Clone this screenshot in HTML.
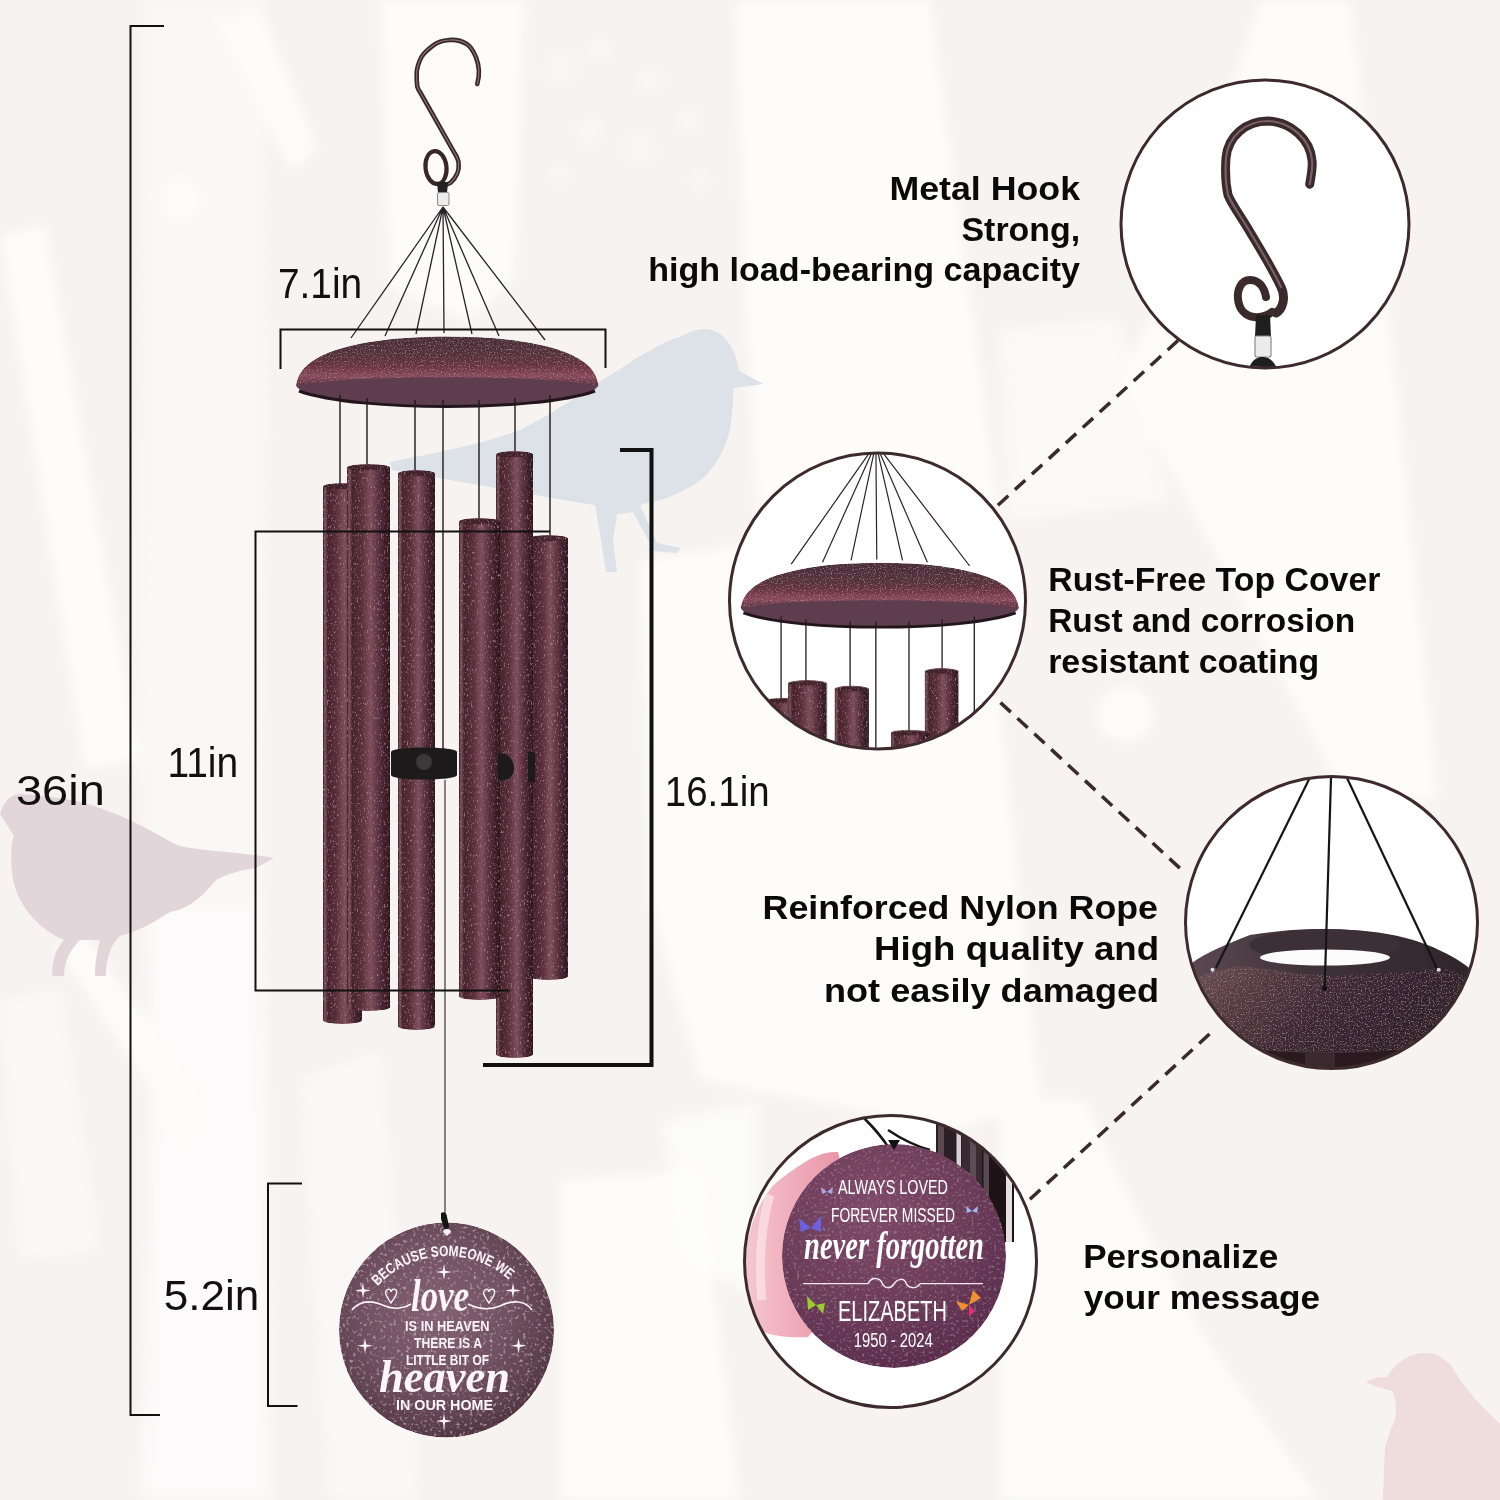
<!DOCTYPE html>
<html><head><meta charset="utf-8"><title>Wind Chime</title>
<style>
html,body{margin:0;padding:0;background:#f7f4f1;width:1500px;height:1500px;overflow:hidden}
svg{display:block}
.dim{font-family:"Liberation Sans",sans-serif;font-size:43px;fill:#111}
.lab{font-family:"Liberation Sans",sans-serif;font-weight:bold;font-size:34px;fill:#0a0a0a}
</style></head><body>
<svg width="1500" height="1500" viewBox="0 0 1500 1500">
<defs>
  <filter id="grain" x="0" y="0" width="100%" height="100%">
    <feTurbulence type="fractalNoise" baseFrequency="0.75" numOctaves="1" seed="5" result="noise"/>
    <feColorMatrix in="noise" type="matrix" values="0 0 0 0 0.7  0 0 0 0 0.55  0 0 0 0 0.6  1.6 0 0 0 -0.9" result="light"/>
    <feColorMatrix in="noise" type="matrix" values="0 0 0 0 0.1  0 0 0 0 0.05  0 0 0 0 0.08  0 -1.6 0 0 0.7" result="dark"/>
    <feMerge result="m"><feMergeNode in="SourceGraphic"/><feMergeNode in="dark"/><feMergeNode in="light"/></feMerge>
    <feComposite in="m" in2="SourceAlpha" operator="in"/>
  </filter>
  <filter id="glit2" x="0" y="0" width="100%" height="100%">
    <feTurbulence type="fractalNoise" baseFrequency="0.35" numOctaves="2" seed="11" result="noise"/>
    <feColorMatrix in="noise" type="matrix" values="0 0 0 0 0.8  0 0 0 0 0.6  0 0 0 0 0.74  0.8 0 0 0 -0.46" result="light"/>
    <feMerge result="m"><feMergeNode in="SourceGraphic"/><feMergeNode in="light"/></feMerge>
    <feComposite in="m" in2="SourceAlpha" operator="in"/>
  </filter>
  <filter id="soft" x="-10%" y="-10%" width="120%" height="120%"><feGaussianBlur stdDeviation="6"/></filter>
  <filter id="speck" x="0" y="0" width="100%" height="100%">
    <feTurbulence type="fractalNoise" baseFrequency="0.7 0.35" numOctaves="2" seed="7" result="noise"/>
    <feColorMatrix in="noise" type="matrix" values="0 0 0 0 0.72  0 0 0 0 0.46  0 0 0 0 0.54  1.8 0 0 0 -1.1" result="light"/>
    <feColorMatrix in="noise" type="matrix" values="0 0 0 0 0.16  0 0 0 0 0.07  0 0 0 0 0.11  0 -1.8 0 0 0.78" result="dark"/>
    <feMerge result="m"><feMergeNode in="SourceGraphic"/><feMergeNode in="dark"/><feMergeNode in="light"/></feMerge>
    <feComposite in="m" in2="SourceAlpha" operator="in"/>
  </filter>
  <filter id="glit" x="0" y="0" width="100%" height="100%">
    <feTurbulence type="fractalNoise" baseFrequency="0.3" numOctaves="2" seed="3" result="noise"/>
    <feColorMatrix in="noise" type="matrix" values="0 0 0 0 0.75  0 0 0 0 0.6  0 0 0 0 0.68  1.8 0 0 0 -1.05" result="light"/>
    <feColorMatrix in="noise" type="matrix" values="0 0 0 0 0.2  0 0 0 0 0.1  0 0 0 0 0.15  0 -1.8 0 0 0.75" result="dark"/>
    <feMerge result="m"><feMergeNode in="SourceGraphic"/><feMergeNode in="dark"/><feMergeNode in="light"/></feMerge>
    <feComposite in="m" in2="SourceAlpha" operator="in"/>
  </filter>
  <clipPath id="c1"><circle cx="1265" cy="224" r="143"/></clipPath>
  <clipPath id="c2"><circle cx="877.5" cy="601" r="147"/></clipPath>
  <clipPath id="c3"><circle cx="1331.5" cy="922.5" r="145"/></clipPath>
  <clipPath id="c4"><circle cx="890.5" cy="1261.5" r="145"/></clipPath>
  <linearGradient id="ring" x1="0" x2="1" y1="0" y2="0">
    <stop offset="0" stop-color="#5e4a52"/>
    <stop offset="0.4" stop-color="#40343a"/>
    <stop offset="1" stop-color="#2e2428"/>
  </linearGradient>
  <linearGradient id="ringfront" x1="0" x2="1" y1="0" y2="0.3">
    <stop offset="0" stop-color="#70525c"/>
    <stop offset="0.3" stop-color="#54383f"/>
    <stop offset="0.6" stop-color="#3a2630"/>
    <stop offset="1" stop-color="#2e2028"/>
  </linearGradient>
  <linearGradient id="hand" x1="0" x2="1" y1="0" y2="0">
    <stop offset="0" stop-color="#f4c8d0"/>
    <stop offset="0.3" stop-color="#f2b6c2"/>
    <stop offset="1" stop-color="#e896a8"/>
  </linearGradient>
  <radialGradient id="disc" cx="0.4" cy="0.3" r="0.8">
    <stop offset="0" stop-color="#7e4a6a"/>
    <stop offset="0.6" stop-color="#6a3a58"/>
    <stop offset="1" stop-color="#56284a"/>
  </radialGradient>
  <linearGradient id="tube" x1="0" x2="1" y1="0" y2="0">
    <stop offset="0" stop-color="#341a24"/>
    <stop offset="0.05" stop-color="#80545f"/>
    <stop offset="0.12" stop-color="#46222c"/>
    <stop offset="0.35" stop-color="#5a2e3c"/>
    <stop offset="0.55" stop-color="#7e4e5c"/>
    <stop offset="0.7" stop-color="#603442"/>
    <stop offset="0.86" stop-color="#42202c"/>
    <stop offset="1" stop-color="#2a161e"/>
  </linearGradient>
  <linearGradient id="cover" x1="0" x2="0" y1="0" y2="1">
    <stop offset="0" stop-color="#4a2e38"/>
    <stop offset="0.4" stop-color="#56303c"/>
    <stop offset="0.62" stop-color="#6e3446"/>
    <stop offset="0.8" stop-color="#8a4a5c"/>
    <stop offset="1" stop-color="#5e3040"/>
  </linearGradient>
  <radialGradient id="sail" cx="0.45" cy="0.42" r="0.62">
    <stop offset="0" stop-color="#846272"/>
    <stop offset="0.55" stop-color="#705060"/>
    <stop offset="0.85" stop-color="#5c3e4c"/>
    <stop offset="1" stop-color="#4a2e3c"/>
  </radialGradient>
  <g id="chime">
    <!-- strings to hook -->
    <g stroke="#2a2226" stroke-width="1.3" fill="none">
      <path d="M443,207 L351,338 M443,207 L385,336 M443,207 L416,334 M443,207 L444,333 M443,207 L472,334 M443,207 L499,336 M443,207 L545,340"/>
    </g>
    <!-- cover -->
    <path d="M296,385 C300,398 360,406 447,406 C534,406 594,398 598.5,385 C560,378 500,376 447,376 C394,376 334,378 296,385 Z" fill="#5e3e4e"/>
    <path d="M299,391 C330,402 390,406.5 447,406.5 C504,406.5 564,402 595,391" stroke="#22161c" stroke-width="3" fill="none"/>
    <path d="M296,386 C298,370 310,360 330,352 C360,341 400,336.5 447,336.5 C495,336.5 535,341 565,352 C585,360 597,370 598.5,386 C575,380 510,377.5 447,377.5 C384,377.5 319,380 296,386 Z" fill="url(#cover)" filter="url(#grain)"/>
    <!-- tube strings -->
    <g stroke="#1e1a1c" stroke-width="1.4" fill="none">
      <path d="M340,395 V485 M367,398 V466 M415,400 V472 M443,400 V760 M479,400 V520 M515,398 V453 M550,395 V537"/>
    </g>
    <!-- tubes -->
    <g filter="url(#speck)">
      <path d="M323,486.5 A19.5,3.5 0 0 1 362,486.5 V1020.5 A19.5,3.5 0 0 1 323,1020.5 Z" fill="url(#tube)"/>
      <ellipse cx="342.5" cy="486.5" rx="19.0" ry="2.7" fill="#3e2029" opacity="0.9"/>
      <path d="M529,538.5 A19.5,3.5 0 0 1 568,538.5 V976.5 A19.5,3.5 0 0 1 529,976.5 Z" fill="url(#tube)"/>
      <ellipse cx="548.5" cy="538.5" rx="19.0" ry="2.7" fill="#3e2029" opacity="0.9"/>
      <path d="M496,454.5 A18.5,3.5 0 0 1 533,454.5 V1054.5 A18.5,3.5 0 0 1 496,1054.5 Z" fill="url(#tube)"/>
      <ellipse cx="514.5" cy="454.5" rx="18.0" ry="2.7" fill="#3e2029" opacity="0.9"/>
      <path d="M459,521.5 A20.5,3.5 0 0 1 500,521.5 V996.5 A20.5,3.5 0 0 1 459,996.5 Z" fill="url(#tube)"/>
      <ellipse cx="479.5" cy="521.5" rx="20.0" ry="2.7" fill="#3e2029" opacity="0.9"/>
      <path d="M398,473.5 A18.5,3.5 0 0 1 435,473.5 V1026.5 A18.5,3.5 0 0 1 398,1026.5 Z" fill="url(#tube)"/>
      <ellipse cx="416.5" cy="473.5" rx="18.0" ry="2.7" fill="#3e2029" opacity="0.9"/>
      <path d="M347,467.5 A21.5,3.5 0 0 1 390,467.5 V1007.5 A21.5,3.5 0 0 1 347,1007.5 Z" fill="url(#tube)"/>
      <ellipse cx="368.5" cy="467.5" rx="21.0" ry="2.7" fill="#3e2029" opacity="0.9"/>
    </g>
    <!-- clapper -->
    <path d="M391,752 C391,746 457,746 457,752 V775 C457,781 391,781 391,775 Z" fill="#1c1a1b"/>
    <ellipse cx="424" cy="762" rx="8" ry="8" fill="#3a3839"/>
    <path d="M498,754 C508,752 514,760 514,768 C514,776 508,782 498,780 Z" fill="#1c1a1b"/>
    <rect x="528" y="752" width="7" height="30" fill="#1c1a1b"/>
  </g>
</defs>

<!-- background -->
<rect width="1500" height="1500" fill="#f6f3f0"/>
<g fill="#fdfcfb" filter="url(#soft)">
  <path d="M145,0 H265 L268,400 L262,800 L272,1500 H140 L150,1100 L138,700 Z" opacity="0.55"/>
  <path d="M145,900 H265 L272,1500 H140 L150,1100 Z" opacity="0.6"/>
  <path d="M215,22 L262,12 L318,150 L292,172 Z"/>
  <circle cx="182" cy="200" r="20"/>
  <path d="M380,0 H525 L515,280 L470,320 L390,290 Z"/>
  <path d="M735,0 H930 L975,330 L1000,520 L960,760 L760,560 L745,300 Z"/>
  <path d="M640,560 L780,540 L1000,700 L1040,1100 L960,1130 L700,1080 L650,900 Z"/>
  <circle cx="711" cy="979" r="40"/>
  <circle cx="1125" cy="714" r="28"/>
  <path d="M1260,0 H1350 L1396,380 L1438,800 H1346 L1240,600 L1122,380 L1180,250 Z"/>
  <path d="M1000,330 L1120,320 L1170,500 L1010,520 Z" opacity="0.7"/>
  <path d="M1000,1100 L1085,1100 L1130,1200 L1200,1330 L1320,1500 H1000 Z"/>
  <path d="M300,1080 L380,1050 L420,1500 H330 Z" opacity="0.6"/>
  <path d="M560,1180 L700,1170 L740,1500 H560 Z"/>
  <path d="M660,1120 L760,1100 L760,1300 L680,1260 Z" opacity="0.8"/>
  <path d="M0,235 L45,225 L140,760 L85,770 Z"/>
  <path d="M0,1000 L60,990 L100,1250 L20,1260 Z" opacity="0.6"/>
  <path d="M55,945 L85,935 L210,1110 L190,1150 Z"/>
</g>
<g fill="#fcfbfa" opacity="0.45" filter="url(#soft)">
  <circle cx="560" cy="70" r="18"/><circle cx="600" cy="50" r="14"/><circle cx="650" cy="80" r="16"/><circle cx="690" cy="120" r="14"/><circle cx="640" cy="150" r="18"/><circle cx="590" cy="130" r="16"/><circle cx="560" cy="175" r="12"/><circle cx="700" cy="180" r="12"/>
</g>

<!-- birds -->
<path d="M390,462 C440,452 480,445 520,430 C560,410 585,390 604.8,378.4 C620,370 630,362 640,356 C655,348 668,340 679.4,337.3 C690,331 698,329 705.6,329 C722,330 735,345 739,371 L763.4,384 L733.6,388 C733,405 732,418 729.8,430.6 C726,445 722,452 718.6,458.6 C708,475 700,482 690.6,486.6 C675,495 665,500 653.3,501.6 L640,505 L657,543 L681,548 L677,553 L654,551 L633,512 L617,514 L613,540 L617,572 L606,572 L601,540 L595,505 C560,500 480,485 392,470 Z" fill="#dde1e8"/>
<path d="M0,814 C4,800 12,794 20,794 C50,796 80,800 100,808 C140,822 165,840 180,846 C210,852 240,852 274,858 L256,868 C240,870 225,875 216,880 C200,900 185,910 170,912 C150,925 135,932 120,936 C110,945 106,960 106,976 L95,976 C95,960 98,948 100,940 L80,940 C70,950 64,962 64,976 L52,976 C52,960 56,948 64,940 C40,930 15,905 12,872 C10,855 12,840 14,836 Z" fill="#e2d6da"/>
<path d="M1366,1382 C1372,1378 1380,1377 1387,1377 C1398,1360 1410,1353 1427,1353 C1442,1353 1452,1365 1460,1380 C1475,1400 1490,1415 1500,1424 V1500 H1383 C1384,1470 1385,1455 1385,1447 C1390,1430 1396,1420 1396,1413 C1396,1400 1394,1393 1392,1391 C1384,1388 1374,1387 1366,1382 Z" fill="#efdcdc"/>

<!-- hook -->
<path d="M477.3,84 C479.5,76 479.5,66 476,57.3 C473,50 470,46 466.7,44 C461,40.5 455,39.5 449.3,40 C442,40.5 437,42.5 433.3,45.3 C427,50 423,54 421.3,57.3 C418,64 416.7,69 416.7,73.3 C416.5,79 416.8,83 417.3,86.7 C418,89 419,91 420,92 L454.7,153.3 C457,157 458.5,160.5 458.7,164 C459,167.5 458.5,170.5 457.3,173.3 C455.5,177.5 453,180.5 450.7,182.7 C448,184.5 445.5,185.3 442.7,185.3" stroke="#3a2628" stroke-width="4.6" fill="none" stroke-linecap="round" stroke-linejoin="round"/>
<ellipse cx="436" cy="167.5" rx="10.5" ry="16.5" transform="rotate(-6 436 167.5)" stroke="#3a2628" stroke-width="4.2" fill="none"/>
<path d="M477.3,84 C479.5,76 479.5,66 476,57.3 C473,50 470,46 466.7,44 C461,40.5 455,39.5 449.3,40 C442,40.5 437,42.5 433.3,45.3 C427,50 423,54 421.3,57.3 C418,64 416.7,69 416.7,73.3 C416.5,79 416.8,83 417.3,86.7 C418,89 419,91 420,92 L454.7,153.3 C457,157 458.5,160.5 458.7,164 C459,167.5 458.5,170.5 457.3,173.3 C455.5,177.5 453,180.5 450.7,182.7 C448,184.5 445.5,185.3 442.7,185.3" stroke="#8a7478" stroke-width="1.2" fill="none" stroke-linecap="round"/>
<path d="M437,182 L448,182 L447,193 L438,193 Z" fill="#222"/>
<rect x="437.5" y="192.5" width="11.5" height="13" rx="1.5" fill="#ececec" stroke="#8a8a8a" stroke-width="1"/>

<use href="#chime"/>

<!-- sail string -->
<path d="M445,780 V1220" stroke="#444" stroke-width="1.3"/>
<!-- sail -->
<circle cx="446.5" cy="1330" r="107.5" fill="url(#sail)" filter="url(#glit)"/>
<path d="M441,1213 C444,1211 447,1213 447,1217 L449,1226 C449,1229 446,1230 444,1228 L441,1219 Z" fill="#151515"/>
<path d="M443,1232 C443,1228 451,1228 451,1232 L447,1236 Z" fill="#f6f2f0"/>
<g fill="#fbf4f8">
  <path id="arcBec" d="M352.5,1350 A94,94 0 0 1 540.5,1350" fill="none"/>
  <text font-family="Liberation Sans, sans-serif" font-size="15" font-weight="bold" text-anchor="middle"><textPath href="#arcBec" startOffset="48.5%" textLength="146" lengthAdjust="spacingAndGlyphs">BECAUSE SOMEONE WE</textPath></text>
  <text x="411" y="1311" font-family="Liberation Serif, serif" font-style="italic" font-weight="bold" font-size="46" textLength="58" lengthAdjust="spacingAndGlyphs">love</text>
  <text x="405" y="1330.5" font-family="Liberation Sans, sans-serif" font-size="14.5" font-weight="bold" textLength="84.5" lengthAdjust="spacingAndGlyphs">IS IN HEAVEN</text>
  <text x="414" y="1348" font-family="Liberation Sans, sans-serif" font-size="14.5" font-weight="bold" textLength="68" lengthAdjust="spacingAndGlyphs">THERE IS A</text>
  <text x="406" y="1365" font-family="Liberation Sans, sans-serif" font-size="14.5" font-weight="bold" textLength="83" lengthAdjust="spacingAndGlyphs">LITTLE BIT OF</text>
  <text x="379" y="1392" font-family="Liberation Serif, serif" font-style="italic" font-weight="bold" font-size="46" textLength="131" lengthAdjust="spacingAndGlyphs">heaven</text>
  <text x="396" y="1410" font-family="Liberation Sans, sans-serif" font-size="14.5" font-weight="bold" textLength="97" lengthAdjust="spacingAndGlyphs">IN OUR HOME</text>
</g>
<path d="M352,1310 C360,1300 372,1300 385,1306 C395,1310 405,1308 411,1304 M468,1304 C478,1309 490,1310 500,1306 C512,1300 525,1300 532,1310" stroke="#fbf4f8" stroke-width="1.6" fill="none"/>
<path d="M391,1303 C386,1296 384,1292 387,1290 C389,1288 391,1290 391,1292 C391,1290 394,1288 396,1290 C398,1293 395,1297 391,1303 Z M489,1303 C484,1296 482,1292 485,1290 C487,1288 489,1290 489,1292 C489,1290 492,1288 494,1290 C496,1293 493,1297 489,1303 Z" fill="none" stroke="#fbf4f8" stroke-width="1.4"/>
<g fill="#fbf4f8">
  <path id="star" d="M444,1264 L445.2,1270.8 L452,1272 L445.2,1273.2 L444,1280 L442.8,1273.2 L436,1272 L442.8,1270.8 Z"/>
  <use href="#star" transform="translate(-81,18.5)"/>
  <use href="#star" transform="translate(69,18.5)"/>
  <use href="#star" transform="translate(-79,73.7)"/>
  <use href="#star" transform="translate(74.6,73.7)"/>
  <use href="#star" transform="translate(0,149)"/>
</g>

<!-- dimension lines -->
<g stroke="#111" fill="none">
  <path d="M164,26 H130.5 V1415 H160" stroke-width="2"/>
  <path d="M280.5,369 V329.5 H605.5 V368" stroke-width="2"/>
  <path d="M550,531.5 H255.5 V990.5 H510" stroke-width="2"/>
  <path d="M620,450 H651.5 V1065 H483" stroke-width="4"/>
  <path d="M302,1183.5 H268 V1406 H297.5" stroke-width="2"/>
</g>
<text class="dim" x="277.9" y="298" textLength="84.3" lengthAdjust="spacingAndGlyphs">7.1in</text>
<text class="dim" x="16.0" y="805" textLength="88.8" lengthAdjust="spacingAndGlyphs">36in</text>
<text class="dim" x="167.4" y="776.5" textLength="70.8" lengthAdjust="spacingAndGlyphs">11in</text>
<text class="dim" x="664.8" y="805.5" textLength="104.8" lengthAdjust="spacingAndGlyphs">16.1in</text>
<text class="dim" x="163.7" y="1310" textLength="95.6" lengthAdjust="spacingAndGlyphs">5.2in</text>

<!-- right circles -->
<g fill="#fff" stroke="none">
  <circle cx="1265" cy="224" r="144"/>
  <circle cx="877.5" cy="601" r="148"/>
  <circle cx="1331.5" cy="922.5" r="146"/>
  <circle cx="890.5" cy="1261.5" r="146"/>
</g>
<!-- circle 1: hook -->
<g clip-path="url(#c1)">
  <path d="M1262,316 V370" stroke="#1a1a1a" stroke-width="5"/>
  <path d="M1309.7,184.2 C1311,176 1313,168 1312,160 C1310,140 1292,122 1268,121 C1246,121 1228,136 1226,158 C1225,172 1226,186 1228,195 C1232,205 1240,215 1250,232 C1262,252 1272,268 1281,287 C1286,297 1283,309 1276,313" stroke="#3a2a2c" stroke-width="9" fill="none" stroke-linecap="round"/>
  <path d="M1309.7,184.2 C1311,176 1313,168 1312,160 C1310,140 1292,122 1268,121 C1246,121 1228,136 1226,158 C1225,172 1226,186 1228,195 C1232,205 1240,215 1250,232 C1262,252 1272,268 1281,287" stroke="#7a6264" stroke-width="2.2" fill="none" stroke-linecap="round"/>
  <path d="M1266,297 C1264,286 1258,280 1250,280 C1241,280 1237,290 1238,299 C1239,309 1245,316 1254,317 C1262,318 1268,315 1272,312" stroke="#3a2a2c" stroke-width="8" fill="none" stroke-linecap="round"/>
  <path d="M1256,315 L1270,315 L1271,337 L1255,337 Z" fill="#1e1e1e"/>
  <rect x="1255" y="336" width="16" height="21" rx="2" fill="#ececec" stroke="#8a8a8a" stroke-width="1.2"/>
  <path d="M1248,370 C1252,360 1256,357 1263,357 C1270,357 1274,362 1278,370 Z" fill="#1e1e1e"/>
</g>
<!-- circle 2: chime detail -->
<g clip-path="url(#c2)">
  <use href="#chime" transform="translate(468.3,253.2) scale(0.92)"/>
</g>
<!-- circle 3: rope & ring -->
<g clip-path="url(#c3)">
  <path d="M1180,975 C1190,960 1214,949 1250,935 C1290,928 1322,929 1340,929.5 C1380,931 1410,936 1441,951 C1460,960 1475,970 1485,985 L1485,1075 L1180,1075 Z" fill="url(#ring)"/>
  <path d="M1185,985 C1200,975 1215,970 1240,966 C1280,970 1300,975 1330,975 C1380,974 1420,970 1440,968 C1460,972 1475,980 1485,990 L1485,1045 C1440,1050 1380,1052 1330,1052 C1280,1052 1220,1048 1185,1040 Z" fill="url(#ringfront)" filter="url(#grain)"/>
  <ellipse cx="1325" cy="945" rx="76" ry="16" fill="#3c3036"/>
  <ellipse cx="1325" cy="957.5" rx="65" ry="8" fill="#fbfbfb"/>
  <path d="M1180,1040 C1240,1050 1290,1053 1330,1053 C1380,1053 1430,1048 1485,1040 V1075 H1180 Z" fill="#2a1a20"/>
  <rect x="1305" y="1053" width="30" height="20" fill="#3a2a30"/>
  <g stroke="#151515" stroke-width="2.2" fill="none">
    <path d="M1309.7,778 L1215.9,968"/>
    <path d="M1331,778 L1324.7,988"/>
    <path d="M1347,778 L1437.7,970"/>
  </g>
  <circle cx="1212.5" cy="969.8" r="2" fill="#ddd"/>
  <circle cx="1438.7" cy="969.8" r="2" fill="#ddd"/>
  <circle cx="1324.6" cy="988.5" r="2.5" fill="#111"/>
</g>
<!-- circle 4: personalized sail -->
<g clip-path="url(#c4)">
  <path d="M838,1152 C825,1151 812,1157 802,1164 C790,1172 778,1180 771,1188 C762,1200 756,1212 752,1224 C747,1240 745,1255 746,1265 C746,1280 747,1295 750,1306 C754,1318 759,1327 765,1333 C780,1337 795,1338 808,1337 L840,1300 L840,1160 Z" fill="url(#hand)"/>
  <path d="M770,1195 C762,1220 758,1260 762,1300" stroke="#fbe6ea" stroke-width="9" fill="none" opacity="0.7"/>
  <g>
    <rect x="936" y="1112" width="26" height="56" fill="#2c1e25"/>
    <rect x="938" y="1112" width="6" height="56" fill="#5a4a50"/>
    <rect x="956.5" y="1112" width="4.5" height="56" fill="#d8d0d4"/>
    <rect x="962" y="1112" width="23" height="100" fill="#3a2a32"/>
    <rect x="970" y="1112" width="6" height="100" fill="#5e4c54"/>
    <rect x="982" y="1140" width="32" height="102" fill="#1e1418"/>
    <rect x="983.5" y="1140" width="5.5" height="102" fill="#5a4a52"/>
    <rect x="1006" y="1140" width="6" height="102" fill="#e6e0e2"/>
  </g>
  <path d="M862,1116 C872,1126 882,1136 890,1150 M888,1130 C900,1138 915,1146 930,1150" stroke="#151515" stroke-width="2.5" fill="none"/>
  <circle cx="894" cy="1256" r="112" fill="url(#disc)" filter="url(#glit2)"/>
  <path d="M888,1140 L894,1150 L900,1140 Z" fill="#111"/>
  <g fill="#fff" font-family="Liberation Sans, sans-serif">
    <text x="838" y="1193.7" font-size="21" textLength="110" lengthAdjust="spacingAndGlyphs">ALWAYS LOVED</text>
    <text x="831" y="1221.6" font-size="21" textLength="124" lengthAdjust="spacingAndGlyphs">FOREVER MISSED</text>
    <text x="804" y="1259" font-size="40" font-family="Liberation Serif, serif" font-style="italic" font-weight="bold" textLength="180" lengthAdjust="spacingAndGlyphs">never forgotten</text>
    <text x="838" y="1321" font-size="29" textLength="109" lengthAdjust="spacingAndGlyphs">ELIZABETH</text>
    <text x="853.7" y="1346.6" font-size="20" textLength="79" lengthAdjust="spacingAndGlyphs">1950 - 2024</text>
  </g>
  <path d="M803,1283.6 H868 M920,1283.6 H983" stroke="#f4e8ee" stroke-width="1.2"/>
  <path d="M868,1283.6 C872,1276 880,1278 882,1283 C884,1288 890,1290 894,1284 C898,1278 904,1278 906,1283 C908,1288 916,1290 920,1283.6" stroke="#f4e8ee" stroke-width="1.5" fill="none"/>
  <!-- butterflies -->
  <g>
    <path d="M827,1192 l-6,-5 l1,7 z M827,1192 l6,-5 l-1,7 z" fill="#a8a8e0"/>
    <path d="M972,1211 l-6,-5 l1,7 z M972,1211 l6,-5 l-1,7 z" fill="#a0b8f0"/>
    <path d="M811,1228 l-12,-10 l2,14 z M811,1228 l10,-12 l0,16 z" fill="#6a60e0"/>
    <path d="M816,1305 l-9,-9 l1,14 z M816,1305 l9,-2 l-2,11 z" fill="#9acc30"/>
    <path d="M969,1305 l-13,-4 l6,10 z M969,1305 l4,-15 l8,8 z" fill="#f09030"/>
    <path d="M969,1305 l6,6 l-6,6 z" fill="#e03070"/>
  </g>
</g>
<g fill="none" stroke="#3d2a2d" stroke-width="3">
  <circle cx="1265" cy="224" r="144"/>
  <circle cx="877.5" cy="601" r="148"/>
  <circle cx="1331.5" cy="922.5" r="146"/>
  <circle cx="890.5" cy="1261.5" r="146"/>
</g>

<!-- dashed connectors -->
<g stroke="#3a2a2c" stroke-width="3.5" stroke-dasharray="14 9" fill="none">
  <path d="M1178,340.5 L997.6,505.5"/>
  <path d="M1000.5,702.6 L1182.5,870.6"/>
  <path d="M1209.5,1034 L1027.6,1201.4"/>
</g>

<!-- labels -->
<text class="lab" x="1080.0" y="199.5" text-anchor="end" textLength="190.5" lengthAdjust="spacingAndGlyphs">Metal Hook</text>
<text class="lab" x="1080.1" y="240.5" text-anchor="end" textLength="118.6" lengthAdjust="spacingAndGlyphs">Strong,</text>
<text class="lab" x="1080.0" y="280.5" text-anchor="end" textLength="431.8" lengthAdjust="spacingAndGlyphs">high load-bearing capacity</text>

<text class="lab" x="1048.2" y="591" textLength="332.2" lengthAdjust="spacingAndGlyphs">Rust-Free Top Cover</text>
<text class="lab" x="1048.2" y="632" textLength="306.9" lengthAdjust="spacingAndGlyphs">Rust and corrosion</text>
<text class="lab" x="1048.2" y="673" textLength="270.9" lengthAdjust="spacingAndGlyphs">resistant coating</text>

<text class="lab" x="1158.0" y="919" text-anchor="end" textLength="395.4" lengthAdjust="spacingAndGlyphs">Reinforced Nylon Rope</text>
<text class="lab" x="1159.1" y="959.5" text-anchor="end" textLength="285.0" lengthAdjust="spacingAndGlyphs">High quality and</text>
<text class="lab" x="1159.1" y="1002" text-anchor="end" textLength="335.1" lengthAdjust="spacingAndGlyphs">not easily damaged</text>

<text class="lab" x="1083.2" y="1268" textLength="195.0" lengthAdjust="spacingAndGlyphs">Personalize</text>
<text class="lab" x="1083.8" y="1309" textLength="236.2" lengthAdjust="spacingAndGlyphs">your message</text>
</svg>
</body></html>
